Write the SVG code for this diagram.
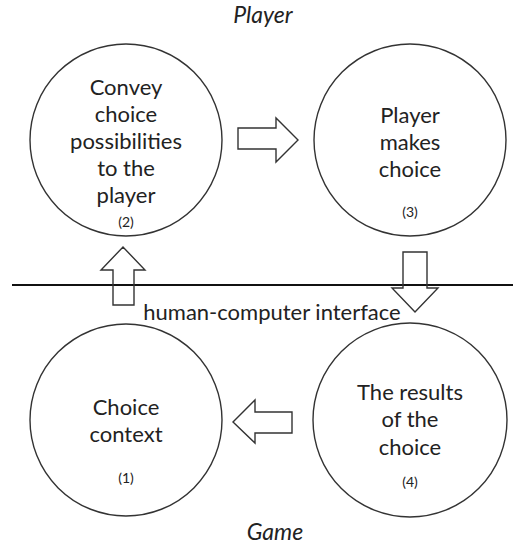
<svg xmlns="http://www.w3.org/2000/svg" width="513" height="546" viewBox="0 0 513 546">
<style>
.node circle{fill:#fff;stroke:#333;stroke-width:1.4}
.t{font-family:Lato,"Open Sans",sans-serif;font-size:22px;fill:#222;text-anchor:middle}
.n{font-family:Lato,"Open Sans",sans-serif;font-size:14px;fill:#222;text-anchor:middle}
.lbl{font-family:Lato,"Open Sans",sans-serif;font-size:23px;fill:#222;text-anchor:middle;font-style:italic}
.arr{fill:none;stroke:#333;stroke-width:1.4;stroke-linejoin:miter}
</style>
<rect width="513" height="546" fill="#fff"/>
<text class="lbl" x="263" y="23">Player</text>
<text class="lbl" x="275" y="540">Game</text>
<g id="connectors">
<line x1="12" y1="285" x2="513" y2="285" stroke="#111" stroke-width="2"/>
<polygon class="arr" points="238,128 276,128 276,118 298,140 276,162 276,149 238,149"/>
<polygon class="arr" points="113,305 113,270 101,270 123,247 145,270 134,270 134,305"/>
<polygon class="arr" points="403,252 427,252 427,288 438,288 415,312 392,288 403,288"/>
<polygon class="arr" points="292,412 255,412 255,400 233,422 255,443 255,433 292,433"/>
<text class="t" x="272" y="320">human-computer interface</text>
</g>
<g id="node2" class="node">
<circle cx="126" cy="140" r="96"/>
<text class="t" x="126" y="95">Convey</text>
<text class="t" x="126" y="122">choice</text>
<text class="t" x="126" y="149">possibilities</text>
<text class="t" x="126" y="176">to the</text>
<text class="t" x="126" y="203">player</text>
<text class="n" x="126" y="227">(2)</text>
</g>
<g id="node3" class="node">
<circle cx="410" cy="140" r="96"/>
<text class="t" x="410" y="123">Player</text>
<text class="t" x="410" y="150">makes</text>
<text class="t" x="410" y="177">choice</text>
<text class="n" x="410" y="217">(3)</text>
</g>
<g id="node1" class="node">
<circle cx="126" cy="420" r="96"/>
<text class="t" x="126" y="415">Choice</text>
<text class="t" x="126" y="442">context</text>
<text class="n" x="126" y="483">(1)</text>
</g>
<g id="node4" class="node">
<circle cx="410" cy="420" r="97"/>
<text class="t" x="410" y="400">The results</text>
<text class="t" x="410" y="427">of the</text>
<text class="t" x="410" y="455">choice</text>
<text class="n" x="410" y="487">(4)</text>
</g>
</svg>
